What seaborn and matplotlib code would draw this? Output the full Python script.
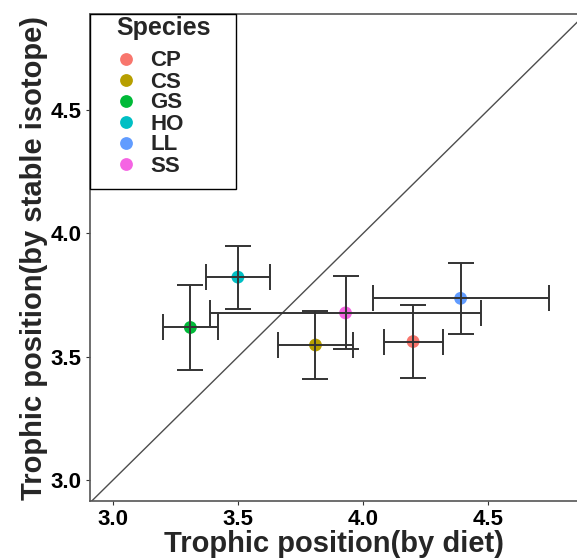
import pandas as pd
import seaborn as sns
import matplotlib.pyplot as plt
from matplotlib.patches import Rectangle

# valori
species = ['CP', 'CS', 'GS', 'HO', 'LL', 'SS']
diet_tp = [4.20, 3.81, 3.31, 3.50, 4.39, 3.93]
diet_err = [0.118, 0.149, 0.111, 0.128, 0.352, 0.540]
iso_tp = [3.562, 3.548, 3.619, 3.823, 3.737, 3.678]
iso_err = [0.149, 0.137, 0.172, 0.128, 0.145, 0.148]
colors = ['#F8766D', '#B79F00', '#00BA38', '#00BFC4', '#619CFF', '#F564E3']

df = pd.DataFrame({'Species': species, 'diet': diet_tp, 'diet_err': diet_err,
                   'iso': iso_tp, 'iso_err': iso_err})

sns.set_style('white')
plt.rcParams['font.family'] = ['Liberation Sans', 'DejaVu Sans']
plt.rcParams['font.weight'] = 'bold'

fig = plt.figure(figsize=(5.77, 5.58), dpi=100)
ax = fig.add_axes([90 / 577, 1 - 501 / 558, 1 - 90 / 577, (501 - 14) / 558])

# linea 1:1
ax.plot([2.8, 5.0], [2.8, 5.0], color='#4d4d4d', lw=1, zorder=1)

sns.scatterplot(data=df, x='diet', y='iso', hue='Species', palette=colors,
                s=85, edgecolor='none', ax=ax, zorder=2)

# barre di errore sopra i punti
ax.errorbar(df['diet'], df['iso'], xerr=df['diet_err'], yerr=df['iso_err'],
            fmt='none', ecolor='#333333', elinewidth=1.4, capsize=9.5,
            capthick=1.4, zorder=3)

ax.set_xlim(2.909, 4.855)
ax.set_ylim(2.916, 4.889)
ax.set_xticks([3.0, 3.5, 4.0, 4.5])
ax.set_yticks([3.0, 3.5, 4.0, 4.5])
ax.tick_params(axis='both', length=3, width=0.8, color='#333333',
               labelsize=16, labelcolor='black', pad=3, bottom=True, left=True)
for lab in ax.get_xticklabels() + ax.get_yticklabels():
    lab.set_fontweight('bold')

ax.set_xlabel('Trophic position(by diet)', fontsize=21, fontweight='bold', labelpad=0)
ax.set_ylabel('Trophic position(by stable isotope)', fontsize=21, fontweight='bold', labelpad=2)

for side in ['left', 'bottom', 'top']:
    ax.spines[side].set_visible(True)
    ax.spines[side].set_color('#555555')
    ax.spines[side].set_linewidth(1.2)
ax.spines['right'].set_visible(False)

# legenda: cornice e titolo a parte, voci dalla legenda di seaborn
ax.add_patch(Rectangle((0, 1 - (189 - 14) / 487), (236 - 90) / 487, (189 - 14) / 487,
                       transform=ax.transAxes, fill=True, facecolor='white',
                       edgecolor='black', lw=1.0, zorder=5, clip_on=False))
ax.text(26 / 487, 1 - (28 - 14) / 487, 'Species', transform=ax.transAxes,
        fontsize=18, fontweight='bold', ha='left', va='center', zorder=6)
leg = ax.legend(loc='upper left', bbox_to_anchor=(22.7 / 487, 1 - (50.5 - 14) / 487),
                frameon=False, fontsize=16, borderaxespad=0, borderpad=0,
                handlelength=1.2, handletextpad=0.5, labelspacing=0.0)
leg.set_zorder(7)
for t in leg.get_texts():
    t.set_fontweight('bold')

fig.savefig('out.png', dpi=100)
